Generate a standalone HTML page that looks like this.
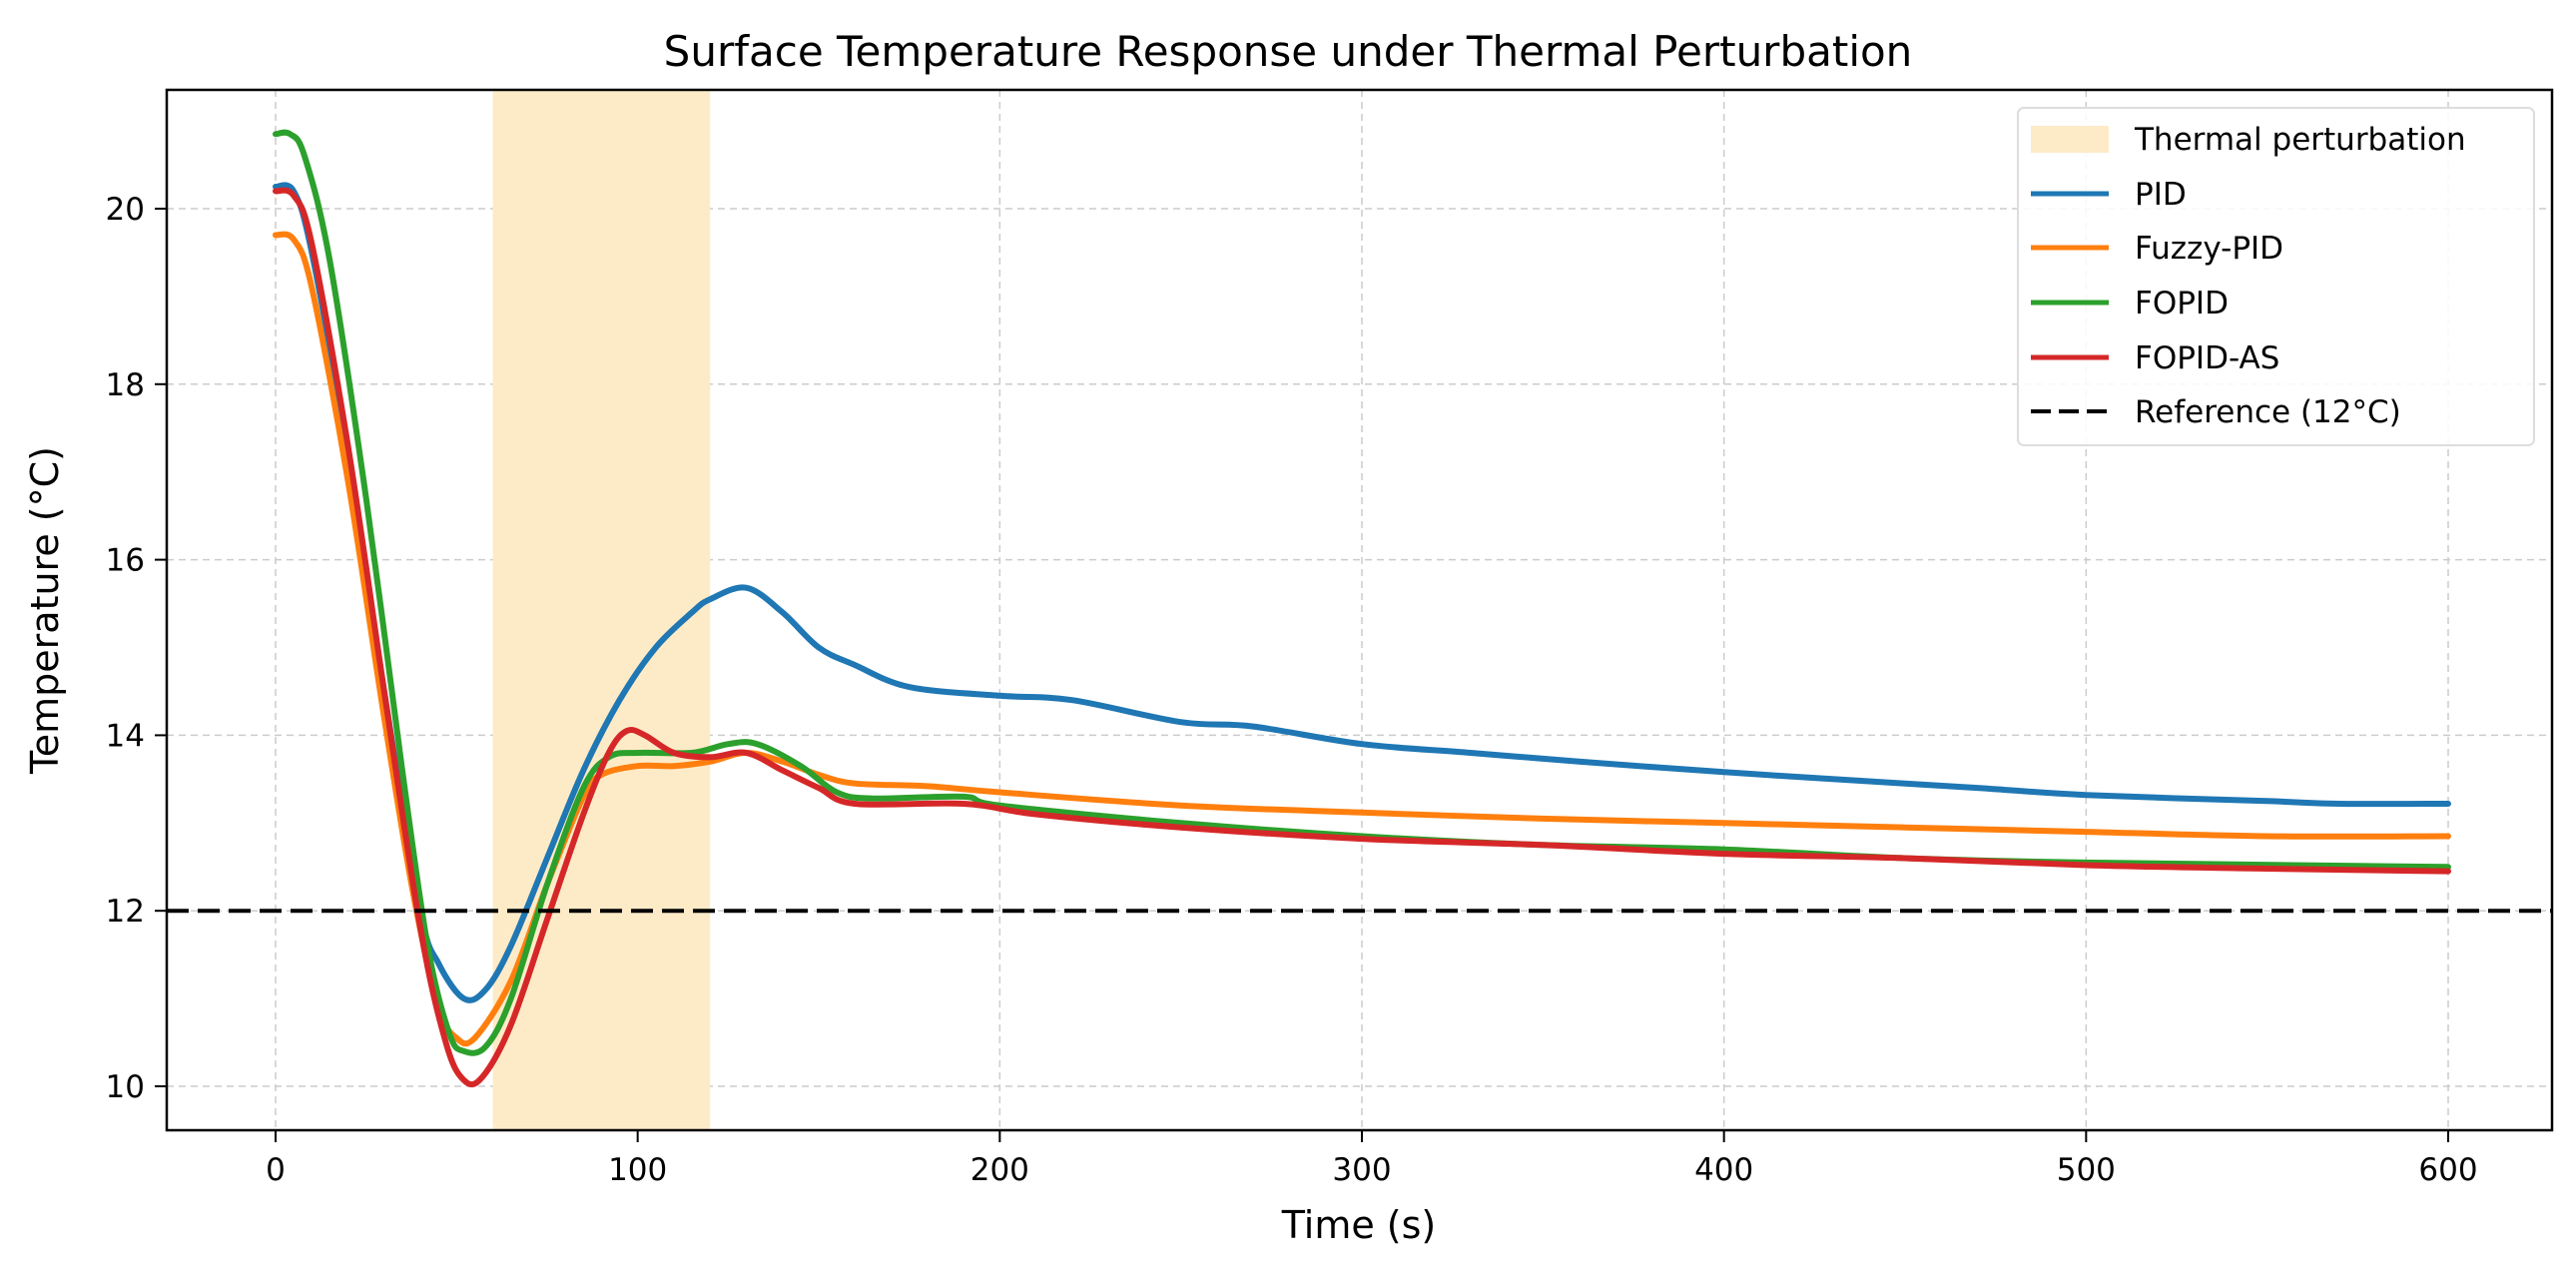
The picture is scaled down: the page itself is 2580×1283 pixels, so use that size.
<!DOCTYPE html>
<html><head><meta charset="utf-8"><style>
body{margin:0;background:#fff}
svg{display:block;font-family:"DejaVu Sans","Liberation Sans",sans-serif}
</style></head><body>
<svg id="chart" width="2580" height="1283" viewBox="0 0 2580 1283" xmlns="http://www.w3.org/2000/svg">
<rect width="2580" height="1283" fill="#fff"/>
<g id="grid"></g>
<g id="band"></g>
<g id="ticks"></g>
<g id="series"></g>
<rect x="167" y="90" width="2389" height="1042" fill="none" stroke="#000" stroke-width="2.5"/>
<text x="1290" y="66" text-anchor="middle" font-size="42">Surface Temperature Response under Thermal Perturbation</text>
<text x="1361" y="1240" text-anchor="middle" font-size="38">Time (s)</text>
<text transform="translate(58,611) rotate(-90)" text-anchor="middle" font-size="38">Temperature (°C)</text>
<g id="legend">
<rect x="2021" y="108" width="517" height="338" rx="6" fill="#fff" fill-opacity="0.85" stroke="#ddd" stroke-width="2"/>
</g>
</svg>
<script>
const xTicks=[0,100,200,300,400,500,600];
const yTicks=[10,12,14,16,18,20];
const bandRange=[60,120];
const refValue=12;
const tPID=[0,5,10,20,30,40,45,52,58,65,75,85,95,105,115,120,130,140,150,160,175,200,220,250,270,300,330,360,400,430,470,500,550,570,600];
const vPID=[20.25,20.2,19.5,17.2,14.5,12.0,11.4,11.0,11.1,11.6,12.6,13.6,14.4,15.0,15.4,15.55,15.68,15.4,15.0,14.8,14.55,14.45,14.4,14.15,14.1,13.9,13.8,13.7,13.58,13.5,13.4,13.32,13.25,13.22,13.22];
const tFuzzy=[0,5,10,20,30,38,45,50,55,65,75,85,90,100,110,120,130,140,150,160,180,200,250,300,350,400,450,500,550,600];
const vFuzzy=[19.7,19.65,19.1,16.9,14.2,12.2,10.9,10.55,10.55,11.2,12.3,13.3,13.55,13.65,13.65,13.7,13.8,13.7,13.55,13.45,13.42,13.35,13.2,13.12,13.05,13.0,12.95,12.9,12.85,12.85];
const tFOPID=[0,4,8,15,25,35,42,48,52,58,65,75,85,92,100,115,125,133,145,155,165,190,200,250,300,350,400,450,500,600];
const vFOPID=[20.85,20.85,20.6,19.4,16.7,13.6,11.6,10.6,10.4,10.45,11.0,12.3,13.4,13.75,13.8,13.8,13.9,13.9,13.65,13.35,13.28,13.3,13.2,13.0,12.85,12.75,12.7,12.6,12.55,12.5];
const tAS=[0,5,10,20,30,40,47,52,57,65,75,85,92,97,102,110,120,130,140,150,160,190,210,250,300,350,400,450,500,550,600];
const vAS=[20.2,20.15,19.6,17.3,14.5,11.8,10.5,10.07,10.1,10.7,11.9,13.1,13.8,14.05,14.0,13.8,13.75,13.8,13.6,13.4,13.22,13.22,13.1,12.95,12.82,12.75,12.65,12.6,12.52,12.48,12.45];
const seriesNames=["PID","Fuzzy-PID","FOPID","FOPID-AS"];
const NS="http://www.w3.org/2000/svg";
const X0=167,X1=2556,Y0=90,Y1=1132;
const xs=v=>276+(v-0)*(2452-276)/600;
const ys=v=>1088-(v-10)*87.9;
function mk(tag,attrs,parent){const e=document.createElementNS(NS,tag);for(const k in attrs)e.setAttribute(k,attrs[k]);parent.appendChild(e);return e;}
function smoothPath(P){
 let d='M'+P[0][0].toFixed(1)+','+P[0][1].toFixed(1);
 for(let i=0;i<P.length-1;i++){
  const p0=P[Math.max(0,i-1)],p1=P[i],p2=P[i+1],p3=P[Math.min(P.length-1,i+2)];
  const c1x=p1[0]+(p2[0]-p0[0])/6,c1y=p1[1]+(p2[1]-p0[1])/6;
  const c2x=p2[0]-(p3[0]-p1[0])/6,c2y=p2[1]-(p3[1]-p1[1])/6;
  d+=' C'+c1x.toFixed(1)+','+c1y.toFixed(1)+' '+c2x.toFixed(1)+','+c2y.toFixed(1)+' '+p2[0].toFixed(1)+','+p2[1].toFixed(1);
 }
 return d;
}
const grid=document.getElementById('grid'),band=document.getElementById('band'),ticks=document.getElementById('ticks'),ser=document.getElementById('series'),leg=document.getElementById('legend');
xTicks.forEach(t=>{
 const g=mk('line',{x1:xs(t),x2:xs(t),y1:Y0,y2:Y1,stroke:'#ccc','stroke-width':1.5,'stroke-dasharray':'7 5'},grid);
 
 
 const tk=mk('line',{x1:xs(t),x2:xs(t),y1:Y1,y2:Y1+12,stroke:'#000','stroke-width':2},ticks);
 
 
 const l=mk('text',{x:xs(t),y:Y1+50,'text-anchor':'middle','font-size':31},ticks);l.textContent=t;
 
 
});
yTicks.forEach(t=>{
 const g=mk('line',{x1:X0,x2:X1,y1:ys(t),y2:ys(t),stroke:'#ccc','stroke-width':1.5,'stroke-dasharray':'7 5'},grid);
 
 
 const tk=mk('line',{x1:X0-12,x2:X0,y1:ys(t),y2:ys(t),stroke:'#000','stroke-width':2},ticks);
 
 
 const l=mk('text',{x:X0-22,y:ys(t)+11,'text-anchor':'end','font-size':31},ticks);l.textContent=t;
 
 
});
const b=mk('rect',{x:xs(bandRange[0]),y:Y0+1,width:xs(bandRange[1])-xs(bandRange[0]),height:Y1-Y0-2,fill:'#fdebc8'},band);


const colors=['#1f77b4','#ff7f0e','#2ca02c','#d62728'];
const data=[[tPID,vPID],[tFuzzy,vFuzzy],[tFOPID,vFOPID],[tAS,vAS]];
data.forEach((d,i)=>{
 const P=d[0].map((t,j)=>[xs(t),ys(d[1][j])]);
 const p=mk('path',{d:smoothPath(P),fill:'none',stroke:colors[i],'stroke-width':6,'stroke-linejoin':'round','stroke-linecap':'round'},ser);
 
 
});
const r=mk('line',{x1:X0,x2:X1,y1:ys(refValue),y2:ys(refValue),stroke:'#000','stroke-width':4,'stroke-dasharray':'22 9'},ser);


const labels=['Thermal perturbation','PID','Fuzzy-PID','FOPID','FOPID-AS','Reference (12°C)'];
const rowsY=[139,194,248,303,358,412];
labels.forEach((s,i)=>{
 const y=rowsY[i];
 let h;
 if(i===0){h=mk('rect',{x:2034,y:y-13,width:78,height:27,fill:'#fdebc8'},leg);}
 else if(i===5){h=mk('line',{x1:2034,x2:2112,y1:y,y2:y,stroke:'#000','stroke-width':4,'stroke-dasharray':'20 8'},leg);}
 else{h=mk('line',{x1:2034,x2:2112,y1:y,y2:y,stroke:colors[i-1],'stroke-width':5},leg);}
 
 
 const t=mk('text',{x:2138,y:y+11,'font-size':31},leg);t.textContent=s;
 
 
});
</script>
</body></html>
